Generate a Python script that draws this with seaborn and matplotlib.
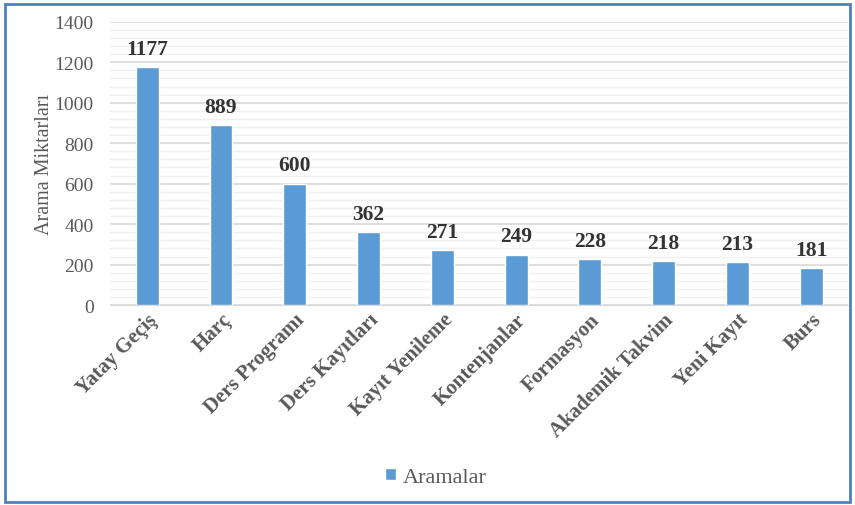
import matplotlib
matplotlib.use('Agg')
import matplotlib.pyplot as plt
from matplotlib.patches import Rectangle
from matplotlib.ticker import MultipleLocator
import seaborn as sns
import pandas as pd

categories = ['Yatay Geçiş', 'Harç', 'Ders Programı', 'Ders Kayıtları', 'Kayıt Yenileme',
              'Kontenjanlar', 'Formasyon', 'Akademik Takvim', 'Yeni Kayıt', 'Burs']
aramalar = [1177, 889, 600, 362, 271, 249, 228, 218, 213, 181]

sns.set_style('white')
plt.rcParams['font.family'] = ['Liberation Serif', 'DejaVu Serif']

df = pd.DataFrame({'kategori': categories, 'Aramalar': aramalar})

fig = plt.figure(figsize=(8.55, 5.06), dpi=100)
ax = fig.add_axes([0.129, 0.395, 0.863, 0.56])

sns.barplot(data=df, x='kategori', y='Aramalar', color='#5B9BD5', width=0.31,
            saturation=1, ax=ax, label='Aramalar', zorder=3)

ax.set_ylim(0, 1400)
ax.yaxis.set_major_locator(MultipleLocator(200))
ax.yaxis.set_minor_locator(MultipleLocator(40))
ax.grid(which='major', axis='y', color='#d9d9d9', linewidth=1.2, zorder=0)
ax.grid(which='minor', axis='y', color='#f0f0f0', linewidth=1.0, zorder=0)
ax.set_axisbelow(True)
for s in ['top', 'right', 'left']:
    ax.spines[s].set_visible(False)
ax.spines['bottom'].set_color('#d9d9d9')

ax.tick_params(axis='y', which='both', length=0, labelsize=14, labelcolor='#595959', pad=12)
ax.tick_params(axis='x', length=0, pad=3)
ax.set_xticks(range(len(categories)))
ax.set_xticklabels(categories, rotation=45, ha='right', rotation_mode='anchor',
                   fontsize=15, fontweight='bold', color='#595959')
ax.set_xlabel('')
ax.set_ylabel('Arama Miktarları', fontsize=14.5, color='#595959', labelpad=0)

for container in ax.containers:
    ax.bar_label(container, fontsize=15.5, fontweight='bold', color='#333333', padding=6)

leg = ax.legend(loc='center', bbox_to_anchor=(0.51, 0.055), bbox_transform=fig.transFigure,
                frameon=False, fontsize=16, handlelength=0.5, handleheight=0.5,
                handletextpad=0.3, labelcolor='#595959')

fig.patches.append(Rectangle((0.006, 0.006), 0.988, 0.985, transform=fig.transFigure,
                             fill=False, edgecolor='#4F81BD', linewidth=2))

fig.savefig('out.png', dpi=100)
